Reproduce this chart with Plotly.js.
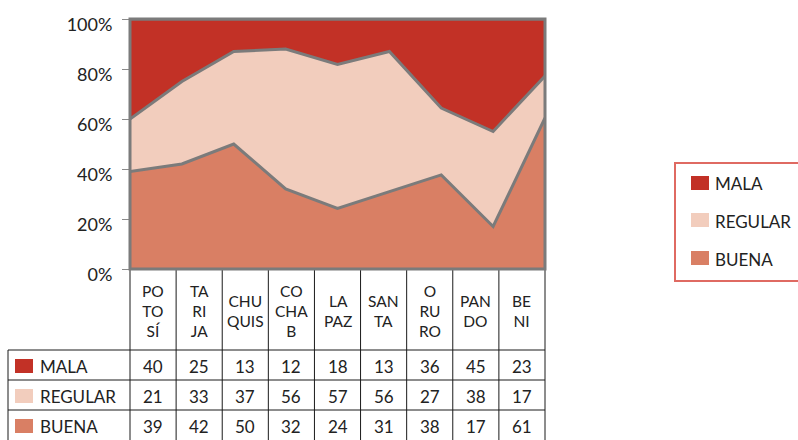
<!DOCTYPE html>
<html><head><meta charset="utf-8">
<script src="https://cdn.plot.ly/plotly-3.0.1.min.js"></script>
<style>html,body{margin:0;padding:0;background:#fff}#chart{width:798px;height:440px}</style>
</head><body><div id="chart"></div>
<script>
const categories = ['POTOSÍ','TARIJA','CHUQUIS','COCHAB','LA PAZ','SANTA','ORURO','PANDO','BENI'];
const headerLabels = ['PO<br>TO<br>SÍ','TA<br>RI<br>JA','CHU<br>QUIS','CO<br>CHA<br>B','LA<br>PAZ','SAN<br>TA','O<br>RU<br>RO','PAN<br>DO','BE<br>NI'];
const seriesNames = ['MALA','REGULAR','BUENA'];
const mala    = [40,25,13,12,18,13,36,45,23];
const regular = [21,33,37,56,57,56,27,38,17];
const buena   = [39,42,50,32,24,31,38,17,61];
const colors = {MALA:'#c23126', REGULAR:'#f2cdbd', BUENA:'#d97f64'};
const yTicks = [0,20,40,60,80,100];
const yTickText = ['0%','20%','40%','60%','80%','100%'];

const W=798,H=440, L=130, R=545, T=19, B=269;
const px2x = x => (x-L)/(R-L);
const px2y = y => (B-y)/(B-T);
const font = 'Lato, "Open Sans", sans-serif';
const lineGrey = '#7b7b7b';
const txt = '#222222';

const valuesBySeries = {MALA:mala, REGULAR:regular, BUENA:buena};
const order = ['BUENA','REGULAR','MALA'];
const traces = order.map(n => ({
  type:'scatter', mode:'lines', x:categories, y:valuesBySeries[n], name:n,
  stackgroup:'one', groupnorm:'percent',
  fillcolor:colors[n], line:{color:lineGrey, width:3}, hoverinfo:'skip', showlegend:false
}));

const shapes = [];
const annotations = [];
const nC = categories.length;
const colW = (R-L)/nC;
const headerBottom = 350, rowH = 30, tableLeft = 8;
const rowTops = [headerBottom, headerBottom+rowH, headerBottom+2*rowH];
const tableBottom = 445;
const ln = {color:'#1a1a1a', width:1};
for (let i=0;i<=nC;i++){
  const x = L + i*colW;
  shapes.push({type:'line', xref:'paper', yref:'paper', x0:px2x(x), x1:px2x(x), y0:px2y(B), y1:px2y(tableBottom), line:ln});
}
shapes.push({type:'line', xref:'paper', yref:'paper', x0:px2x(tableLeft), x1:px2x(tableLeft), y0:px2y(headerBottom), y1:px2y(tableBottom), line:ln});
rowTops.forEach(y=>{
  shapes.push({type:'line', xref:'paper', yref:'paper', x0:px2x(tableLeft), x1:px2x(R), y0:px2y(y), y1:px2y(y), line:ln});
});
headerLabels.forEach((t,i)=>{
  annotations.push({xref:'paper', yref:'paper', x:px2x(L+(i+0.5)*colW), y:px2y(311), text:t, showarrow:false,
    xanchor:'center', yanchor:'middle', font:{family:font, size:15.5, color:txt}});
});
seriesNames.forEach((n,r)=>{
  const cy = rowTops[r] + rowH/2 + 1;
  shapes.push({type:'rect', xref:'paper', yref:'paper', x0:px2x(15), x1:px2x(33), y0:px2y(cy-7), y1:px2y(cy+7), fillcolor:colors[n], line:{width:0}});
  annotations.push({xref:'paper', yref:'paper', x:px2x(38), y:px2y(cy), text:n, showarrow:false, xanchor:'left', yanchor:'middle',
    font:{family:font, size:17, color:txt}});
  valuesBySeries[n].forEach((v,i)=>{
    annotations.push({xref:'paper', yref:'paper', x:px2x(L+(i+0.5)*colW), y:px2y(cy), text:String(v), showarrow:false,
      xanchor:'center', yanchor:'middle', font:{family:font, size:17, color:txt}});
  });
});
// legend (drawn)
shapes.push({type:'rect', xref:'paper', yref:'paper', x0:px2x(675), x1:px2x(806), y0:px2y(163), y1:px2y(281), line:{color:'#df6a62', width:2}, fillcolor:'rgba(0,0,0,0)'});
const legY = [183, 220, 258];
seriesNames.forEach((n,r)=>{
  shapes.push({type:'rect', xref:'paper', yref:'paper', x0:px2x(691), x1:px2x(709), y0:px2y(legY[r]-7), y1:px2y(legY[r]+7), fillcolor:colors[n], line:{width:0}});
  annotations.push({xref:'paper', yref:'paper', x:px2x(713), y:px2y(legY[r]+1), text:n, showarrow:false, xanchor:'left', yanchor:'middle',
    font:{family:font, size:17, color:txt}});
});
shapes.push({type:'rect', xref:'paper', yref:'paper', x0:0, x1:1, y0:0, y1:1, line:{color:lineGrey, width:3}, layer:'above'});

const layout = {
  width:W, height:H, margin:{l:L, r:W-R, t:T, b:H-B},
  paper_bgcolor:'#fff', plot_bgcolor:'#fff',
  font:{family:font, size:16, color:txt},
  showlegend:false,
  xaxis:{type:'category', range:[0, nC-1], showticklabels:false, ticks:'', showgrid:false, zeroline:false, showline:false, fixedrange:true},
  yaxis:{range:[0,100], tickmode:'array', tickvals:yTicks, ticktext:yTickText, showgrid:true, gridcolor:'#8a8a8a', griddash:'dot', gridwidth:1,
    layer:'above traces', ticks:'outside', ticklen:7, tickcolor:'#8a8a8a', zeroline:false, showline:false,
    ticklabelstandoff:6, ticklabelshift:6, tickfont:{family:font, size:18, color:txt}},
  shapes:shapes, annotations:annotations
};
Plotly.newPlot('chart', traces, layout, {staticPlot:true, displayModeBar:false});
</script></body></html>
